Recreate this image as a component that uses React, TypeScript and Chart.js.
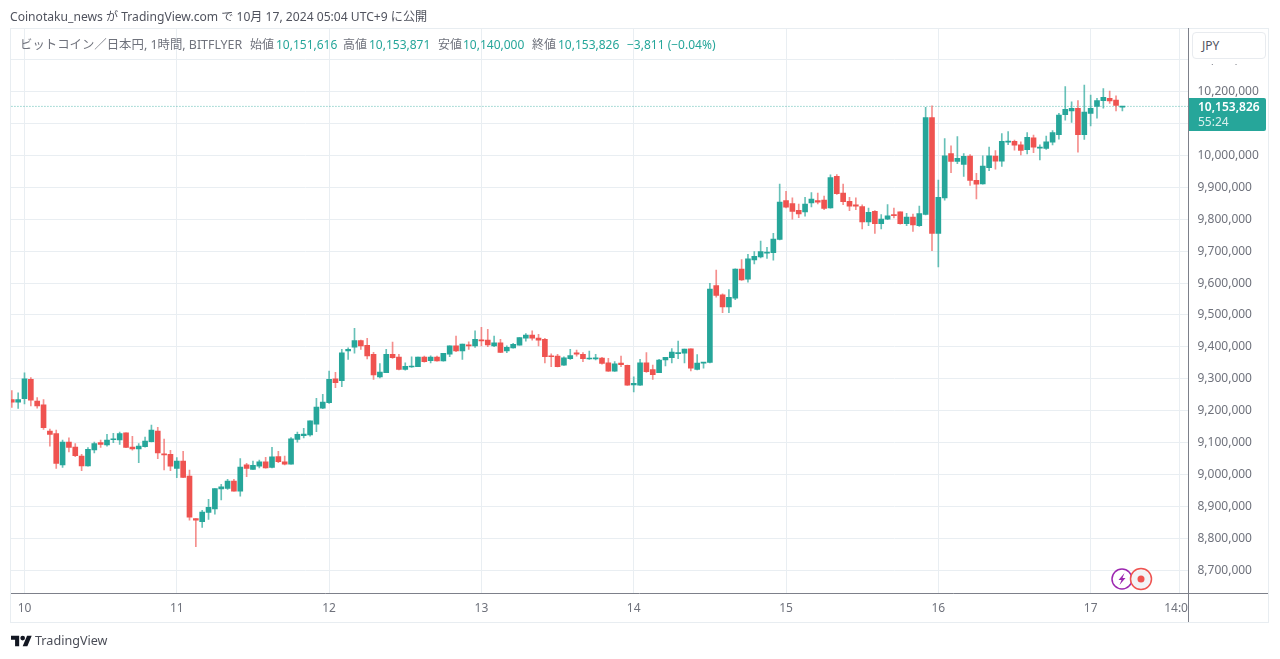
import React, { useEffect, useRef } from "react";
import { Chart, registerables } from "chart.js";

Chart.register(...registerables);

// Hourly candles, hour offset counted from 10 Oct 00:00 (JST chart), first candle is offset -2
const opens = [9235000,9227000,9238000,9298000,9230000,9218000,9136000,9128000,9030000,9102000,9086000,9058000,9027000,9077000,9100000,9093000,9109000,9108000,9131000,9086000,9080000,9087000,9103000,9136000,9065000,9063000,9019000,9042000,8995000,8862000,8852000,8881000,8892000,8955000,8956000,8979000,8948000,9030000,9016000,9026000,9040000,9022000,9056000,9040000,9032000,9110000,9122000,9124000,9158000,9208000,9225000,9300000,9294000,9387000,9399000,9420000,9405000,9377000,9306000,9319000,9377000,9368000,9329000,9337000,9338000,9368000,9357000,9368000,9356000,9377000,9403000,9387000,9406000,9403000,9422000,9421000,9403000,9413000,9387000,9397000,9405000,9427000,9437000,9428000,9424000,9371000,9371000,9343000,9363000,9381000,9377000,9362000,9362000,9365000,9350000,9324000,9349000,9342000,9281000,9280000,9350000,9329000,9319000,9359000,9366000,9379000,9380000,9394000,9329000,9349000,9351000,9592000,9563000,9525000,9553000,9644000,9612000,9673000,9682000,9694000,9695000,9737000,9859000,9849000,9828000,9823000,9851000,9859000,9860000,9836000,9935000,9882000,9856000,9845000,9840000,9792000,9825000,9786000,9800000,9815000,9823000,9786000,9807000,9780000,9815000,10119000,9756000,9867000,10006000,9981000,9972000,9998000,9922000,9911000,9962000,9998000,9982000,10042000,10044000,10033000,10018000,10055000,10023000,10022000,10042000,10065000,10128000,10140000,10148000,10065000,10132000,10154000,10172000,10179000,10174000,10151616];
const highs = [9263000,9256000,9319000,9304000,9241000,9235000,9142000,9139000,9108000,9115000,9097000,9063000,9084000,9102000,9108000,9126000,9129000,9133000,9131000,9120000,9097000,9117000,9155000,9148000,9111000,9076000,9053000,9073000,9014000,8862000,8888000,8922000,8956000,8969000,8985000,8985000,9050000,9035000,9042000,9045000,9054000,9085000,9073000,9058000,9116000,9133000,9145000,9168000,9239000,9251000,9324000,9320000,9392000,9397000,9458000,9421000,9427000,9383000,9348000,9392000,9415000,9377000,9350000,9369000,9368000,9371000,9372000,9371000,9380000,9403000,9434000,9409000,9416000,9450000,9461000,9455000,9434000,9424000,9403000,9411000,9429000,9442000,9450000,9439000,9427000,9378000,9377000,9369000,9392000,9390000,9382000,9387000,9377000,9367000,9364000,9354000,9371000,9343000,9306000,9361000,9382000,9343000,9361000,9367000,9395000,9418000,9393000,9394000,9376000,9351000,9599000,9641000,9566000,9580000,9645000,9674000,9690000,9699000,9732000,9712000,9756000,9910000,9888000,9867000,9848000,9869000,9884000,9882000,9873000,9939000,9940000,9910000,9869000,9867000,9845000,9835000,9827000,9815000,9846000,9835000,9823000,9819000,9816000,9841000,10151000,10156000,9923000,10053000,10030000,10059000,10006000,10003000,9944000,9999000,10026000,10015000,10069000,10075000,10048000,10043000,10072000,10064000,10033000,10061000,10078000,10132000,10216000,10168000,10172000,10221000,10189000,10179000,10210000,10202000,10187000,10153871];
const lows = [9210000,9207000,9221000,9215000,9208000,9141000,9089000,9019000,9022000,9071000,9056000,9012000,9026000,9068000,9085000,9089000,9100000,9094000,9084000,9076000,9037000,9086000,9102000,9050000,9014000,9012000,8990000,8990000,8857000,8774000,8834000,8859000,8876000,8920000,8953000,8948000,8932000,8993000,9016000,9021000,9020000,9021000,9037000,9030000,9032000,9101000,9115000,9120000,9134000,9206000,9223000,9272000,9275000,9361000,9380000,9392000,9362000,9298000,9303000,9319000,9364000,9328000,9327000,9336000,9338000,9352000,9350000,9355000,9355000,9369000,9385000,9361000,9392000,9398000,9403000,9401000,9401000,9382000,9382000,9396000,9405000,9418000,9421000,9403000,9350000,9338000,9337000,9342000,9361000,9371000,9354000,9361000,9359000,9346000,9323000,9323000,9338000,9279000,9259000,9279000,9320000,9298000,9319000,9340000,9350000,9363000,9350000,9325000,9328000,9333000,9350000,9556000,9507000,9507000,9548000,9608000,9603000,9660000,9679000,9677000,9672000,9735000,9836000,9800000,9805000,9810000,9839000,9848000,9830000,9835000,9878000,9846000,9827000,9830000,9770000,9780000,9756000,9770000,9799000,9804000,9785000,9780000,9762000,9778000,9814000,9702000,9651000,9860000,9946000,9974000,9934000,9906000,9864000,9910000,9952000,9957000,9966000,10034000,10017000,10002000,10005000,10009000,9986000,10019000,10033000,10051000,10111000,10104000,10010000,10050000,10093000,10117000,10148000,10163000,10140000,10140000];
const closes = [9227000,9235000,9300000,9233000,9215000,9147000,9126000,9035000,9102000,9085000,9059000,9027000,9079000,9097000,9094000,9108000,9111000,9128000,9085000,9080000,9089000,9105000,9139000,9068000,9061000,9026000,9042000,8991000,8866000,8857000,8882000,8897000,8956000,8961000,8979000,8948000,9023000,9019000,9029000,9040000,9021000,9055000,9040000,9032000,9112000,9126000,9127000,9168000,9211000,9227000,9298000,9288000,9381000,9392000,9420000,9403000,9372000,9312000,9321000,9377000,9366000,9329000,9339000,9340000,9368000,9354000,9368000,9356000,9380000,9403000,9387000,9409000,9403000,9424000,9419000,9406000,9413000,9383000,9399000,9408000,9429000,9437000,9427000,9421000,9369000,9369000,9338000,9366000,9373000,9377000,9363000,9365000,9366000,9348000,9324000,9347000,9344000,9280000,9286000,9350000,9322000,9313000,9359000,9367000,9384000,9381000,9393000,9333000,9349000,9351000,9581000,9561000,9525000,9555000,9644000,9610000,9676000,9684000,9699000,9696000,9738000,9854000,9838000,9825000,9817000,9848000,9863000,9854000,9834000,9931000,9880000,9855000,9841000,9841000,9792000,9822000,9786000,9801000,9811000,9811000,9786000,9807000,9782000,9818000,10119000,9756000,9869000,9999000,9981000,9991000,9997000,9922000,9910000,9967000,9999000,9982000,10044000,10045000,10032000,10016000,10057000,10026000,10026000,10043000,10072000,10127000,10145000,10148000,10065000,10136000,10148000,10172000,10182000,10171000,10157000,10153826];

const FIRST_HOUR = -2;
const lastClose = 10153826;

const priceTicks = [8700000,8800000,8900000,9000000,9100000,9200000,9300000,9400000,9500000,9600000,9700000,9800000,9900000,10000000,10100000,10200000,10300000];
const timeTickHours = [0,24,48,72,96,120,144,168,182];
const timeTickLabels = ["10","11","12","13","14","15","16","17","14:00"];

const UP = "#26a69a";
const DOWN = "#ef5350";
const UP_WICK = "rgba(38,166,154,0.7)";
const DOWN_WICK = "rgba(239,83,80,0.65)";
const GRID = "#e9eef2";
const FRAME = "#e8edf1";
const AXIS = "#7d808a";
const TEXT = "#6f727c";
const FONT = '"Noto Sans", "Noto Sans CJK JP", sans-serif';

const legendItems: { left: number; text: string; color: string; size?: number }[] = [
  { left: 20, text: "ビットコイン／日本円, 1時間, BITFLYER", color: TEXT, size: 12.4 },
  { left: 250, text: "始値", color: TEXT },
  { left: 276, text: "10,151,616", color: UP },
  { left: 343, text: "高値", color: TEXT },
  { left: 369, text: "10,153,871", color: UP },
  { left: 438, text: "安値", color: TEXT },
  { left: 463, text: "10,140,000", color: UP },
  { left: 532, text: "終値", color: TEXT },
  { left: 558, text: "10,153,826", color: UP },
  { left: 627, text: "−3,811 (−0.04%)", color: UP },
];

const overlayPlugin = {
  id: "overlay",
  beforeDraw(chart: any) {
    const { ctx } = chart;
    ctx.save();
    ctx.fillStyle = "#ffffff";
    ctx.fillRect(0, 0, 1280, 659);
    ctx.restore();
  },
  afterDraw(chart: any) {
    const { ctx } = chart;
    ctx.save();
    // mask the clipped part of the 14:00 label
    ctx.fillStyle = "#ffffff";
    ctx.fillRect(1189, 595, 79, 27);
    // outer frame
    ctx.strokeStyle = FRAME;
    ctx.lineWidth = 1;
    ctx.strokeRect(10.5, 28.5, 1258, 594);
    // axis lines
    ctx.strokeStyle = AXIS;
    ctx.beginPath();
    ctx.moveTo(11, 593.5);
    ctx.lineTo(1268, 593.5);
    ctx.moveTo(1188.5, 28);
    ctx.lineTo(1188.5, 622);
    ctx.stroke();
    // badges
    ctx.lineWidth = 1.5;
    ctx.fillStyle = "#ffffff";
    ctx.strokeStyle = "#9c27b0";
    ctx.beginPath();
    ctx.arc(1122, 579, 10, 0, Math.PI * 2);
    ctx.fill();
    ctx.stroke();
    ctx.fillStyle = "#9c27b0";
    ctx.beginPath();
    ctx.moveTo(1124.5, 573);
    ctx.lineTo(1118.5, 580);
    ctx.lineTo(1121.5, 580);
    ctx.lineTo(1119.5, 585);
    ctx.lineTo(1125.5, 578);
    ctx.lineTo(1122.5, 578);
    ctx.closePath();
    ctx.fill();
    ctx.strokeStyle = DOWN;
    ctx.fillStyle = "#f3f3f6";
    ctx.beginPath();
    ctx.arc(1141, 579, 10.5, 0, Math.PI * 2);
    ctx.fill();
    ctx.stroke();
    ctx.fillStyle = DOWN;
    ctx.beginPath();
    ctx.arc(1141, 579, 3.5, 0, Math.PI * 2);
    ctx.fill();
    ctx.restore();
  },
};

export default function App() {
  const ref = useRef<HTMLCanvasElement | null>(null);

  useEffect(() => {
    const canvas = ref.current;
    if (!canvas) return;
    const hours = opens.map((_, k) => k + FIRST_HOUR);
    const colors = opens.map((o, k) => (closes[k] >= o ? UP : DOWN));
    const wickColors = opens.map((o, k) => (closes[k] >= o ? UP_WICK : DOWN_WICK));
    const chart = new Chart(canvas, {
      type: "bar",
      data: {
        datasets: [
          {
            type: "line",
            data: [
              { x: -3, y: lastClose },
              { x: 184, y: lastClose },
            ],
            borderColor: "rgba(38,166,154,0.75)",
            borderWidth: 1,
            borderDash: [1, 2],
            pointRadius: 0,
            order: 3,
          },
          {
            data: hours.map((h, k) => ({ x: h, y: [lows[k], highs[k]] })),
            backgroundColor: wickColors,
            borderWidth: 0,
            grouped: false,
            barThickness: 1,
            maxBarThickness: 1,
            order: 2,
          },
          {
            data: hours.map((h, k) => ({ x: h, y: [opens[k], closes[k]] })),
            backgroundColor: colors,
            borderWidth: 0,
            grouped: false,
            barThickness: 5,
            maxBarThickness: 5,
            minBarLength: 1,
            order: 1,
          },
        ],
      } as any,
      options: {
        responsive: false,
        animation: false,
        layout: { padding: { left: 11, top: 28, right: 12, bottom: 37 } },
        plugins: { legend: { display: false }, tooltip: { enabled: false } },
        scales: {
          x: {
            type: "linear",
            offset: false,
            min: -2.127,
            max: 183.42,
            afterBuildTicks(scale: any) {
              scale.ticks = timeTickHours.map((value) => ({ value }));
            },
            afterFit(scale: any) {
              scale.height = 28;
            },
            grid: { color: GRID, drawTicks: false, offset: false },
            border: { display: false },
            ticks: {
              autoSkip: false,
              maxRotation: 0,
              padding: 7,
              color: TEXT,
              font: { family: FONT, size: 12 },
              callback: (v: any) => timeTickLabels[timeTickHours.indexOf(Number(v))] ?? "",
            },
          },
          y: {
            position: "right",
            min: 8625400,
            max: 10399600,
            afterBuildTicks(scale: any) {
              scale.ticks = priceTicks.map((value) => ({ value }));
            },
            afterFit(scale: any) {
              scale.width = 79.5;
            },
            grid: { color: GRID, drawTicks: false },
            border: { display: false },
            ticks: {
              autoSkip: false,
              padding: 9,
              color: TEXT,
              font: { family: FONT, size: 12 },
              callback: (v: any) => Number(v).toLocaleString("en-US"),
            },
          },
        },
      } as any,
      plugins: [overlayPlugin],
    });
    return () => chart.destroy();
  }, []);

  const abs = (left: number, top: number): React.CSSProperties => ({
    position: "absolute",
    left,
    top,
    whiteSpace: "nowrap",
    lineHeight: "16px",
  });

  return (
    <div style={{ position: "fixed", left: 0, top: 0, width: 1280, height: 659, overflow: "hidden", background: "#fff", fontFamily: FONT, fontSize: 12 }}>
      <canvas ref={ref} width={1280} height={659} style={{ display: "block", width: 1280, height: 659 }} />
      <div style={{ ...abs(10, 9), color: "#50535e", fontSize: 12.12 }}>Coinotaku_news が TradingView.com で 10月 17, 2024 05:04 UTC+9 に公開</div>
      {legendItems.map((it) => (
        <div key={it.left} style={{ ...abs(it.left, 37), color: it.color, fontSize: it.size ?? 12 }}>{it.text}</div>
      ))}
      <div style={{ position: "absolute", left: 1190, top: 29, width: 77, height: 34.5, background: "#fff" }} />
      <div style={{ position: "absolute", left: 1192, top: 32, width: 74, height: 27, boxSizing: "border-box", border: "1px solid #e8ebef", borderRadius: 4, background: "#fff", color: "#50535e", lineHeight: "25px", paddingLeft: 9 }}>JPY</div>
      <div style={{ position: "absolute", left: 1189, top: 98, width: 77, height: 33, background: UP, color: "#fff", borderRadius: "0 2px 2px 0" }}>
        <div style={{ ...abs(9, 1), fontWeight: 600 }}>10,153,826</div>
        <div style={{ ...abs(9, 16), color: "#d9f0ed" }}>55:24</div>
      </div>
      <svg style={{ position: "absolute", left: 11, top: 635 }} width="21" height="12" viewBox="0 4 36 18">
        <path d="M14 22H7V11H0V4h14v18zM28 22h-8l7.5-18h8L28 22z" fill="#131722" />
        <circle cx="20" cy="8" r="4" fill="#131722" />
      </svg>
      <div style={{ ...abs(35, 633), color: "#4a4d57", fontSize: 12.6 }}>TradingView</div>
    </div>
  );
}
